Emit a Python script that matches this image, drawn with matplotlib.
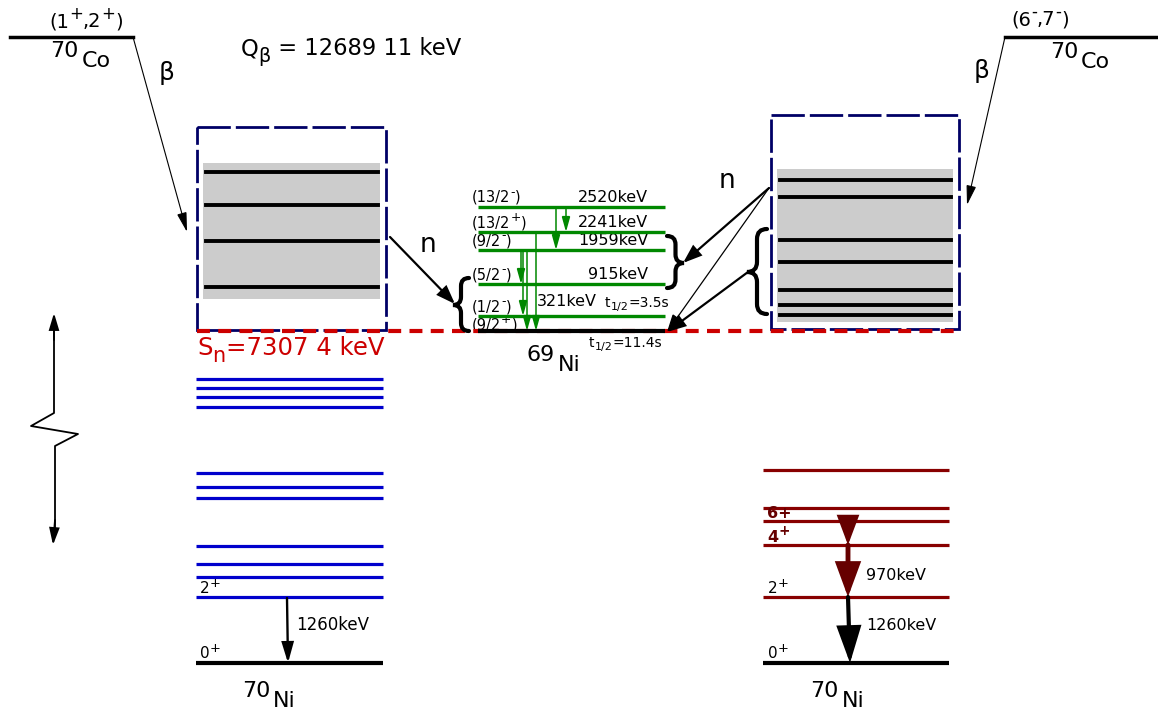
import matplotlib
matplotlib.use("Agg")
import matplotlib.pyplot as plt
from matplotlib.patches import FancyArrowPatch, Rectangle, PathPatch
from matplotlib.path import Path

# ---- data ----
# 69Ni levels (keV), spins (base, parity) and their schematic heights in the drawing
ni69_energy = [2520, 2241, 1959, 915, 321, 0]
ni69_spin = ['13/2', '13/2', '9/2', '5/2', '1/2', '9/2']
ni69_parity = ['-', '+', '-', '-', '-', '+']
ni69_y = [207, 232, 250, 284, 316, 331]
# gamma transitions inside 69Ni (from level index -> to level index, x)
ni69_gammas = [(0, 2, 556), (0, 1, 566), (1, 5, 536), (2, 5, 527), (2, 3, 521), (2, 4, 523)]

# 70Ni bound levels (schematic)
ni70_left_y = [379, 388, 397, 407, 473, 487, 498, 546, 564, 577, 597]
ni70_right_y = [470, 508, 521, 545, 597]
ni70_ground_y = 663

# unbound states in boxes
box_left_y = [172, 205, 241, 287]
box_right_y = [180, 197, 240, 262, 290, 305, 315]

q_beta = '12689 11'
s_n = '7307 4'
e_2plus = 1260
e_4plus = 970
t_half_gs = '11.4s'
t_half_iso = '3.5s'

GREEN = '#008800'
BLUE = '#0000cc'
DRED = '#880000'
ARED = '#660000'
NAVY = '#000066'
RED = '#cc0000'


def arrow(ax, p0, p1, color='black', lw=1.5, hl=10, hw=4, z=5):
    a = FancyArrowPatch(p0, p1, arrowstyle='-|>,head_length=%g,head_width=%g' % (hl, hw),
                        color=color, lw=lw, shrinkA=0, shrinkB=0, mutation_scale=1,
                        joinstyle='miter', zorder=z)
    ax.add_patch(a)


def brace(ax, x_back, x_tip, y_top, y_bot, y_tip, lw=3):
    xm = (x_back + x_tip) / 2.
    r = abs(x_back - x_tip) / 2.
    verts = [(x_back, y_top), (xm, y_top), (xm, y_top + r),
             (xm, y_tip - r),
             (xm, y_tip), (x_tip, y_tip),
             (xm, y_tip), (xm, y_tip + r),
             (xm, y_bot - r),
             (xm, y_bot), (x_back, y_bot)]
    codes = [Path.MOVETO, Path.CURVE3, Path.CURVE3, Path.LINETO, Path.CURVE3, Path.CURVE3,
             Path.CURVE3, Path.CURVE3, Path.LINETO, Path.CURVE3, Path.CURVE3]
    ax.add_patch(PathPatch(Path(verts, codes), fill=False, lw=lw, color='black',
                           capstyle='round', zorder=6))


def rich(ax, x, y, parts, size, ha='left', **kw):
    # parts: (text, rise in em, scale); drawn one after the other
    r = ax.figure.canvas.get_renderer()
    texts = []
    cx = x
    for s, rise, sc in parts:
        t = ax.text(cx, y - rise * size * 100 / 72., s, fontsize=size * sc,
                    ha='left', va='baseline', **kw)
        cx += t.get_window_extent(renderer=r).width
        texts.append(t)
    if ha != 'left':
        shift = (cx - x) * (0.5 if ha == 'center' else 1.0)
        for t in texts:
            px, py = t.get_position()
            t.set_position((px - shift, py))


def sup(s):
    return (s, 0.42, 0.85)


def isotope(ax, x, y, mass, sym, size=16):
    ax.text(x, y, mass, ha='right', va='baseline', fontsize=size)
    ax.text(x + 3, y + 10, sym, ha='left', va='baseline', fontsize=size)


fig = plt.figure(figsize=(11.58, 7.11), dpi=100)
ax = fig.add_axes([0, 0, 1, 1])
ax.set_xlim(0, 1158)
ax.set_ylim(711, 0)
ax.axis('off')

# ---- 70Co parents ----
ax.plot([10, 133], [37, 37], color='black', lw=2.5)
rich(ax, 86, 27, [('(1', 0, 1), sup('+'), (',2', 0, 1), sup('+'), (')', 0, 1)], 14, ha='center')
isotope(ax, 79, 57, '70', 'Co')
ax.text(167, 80, 'β', ha='center', va='baseline', fontsize=18)
arrow(ax, (133, 37), (187, 232), lw=0.8, hl=12, hw=3)

ax.plot([1005, 1158], [37, 37], color='black', lw=2.5)
rich(ax, 1040, 25, [('(6', 0, 1), sup('-'), (',7', 0, 1), sup('-'), (')', 0, 1)], 14, ha='center')
isotope(ax, 1078, 58, '70', 'Co')
ax.text(982, 78, 'β', ha='center', va='baseline', fontsize=18)
arrow(ax, (1005, 37), (967, 205), lw=0.8, hl=12, hw=3)

rich(ax, 241, 55, [('Q', 0, 1), ('β', -0.3, 0.85), (' = %s keV' % q_beta, 0, 1)], 16.3)

# ---- unbound-state boxes ----
for (x0, y0, x1, y1), (gx0, gy0, gx1, gy1), levels in [
        ((197, 127, 386, 330), (203, 163, 380, 299), box_left_y),
        ((771, 115, 959, 329), (777, 169, 953, 322), box_right_y)]:
    ax.add_patch(Rectangle((gx0, gy0), gx1 - gx0, gy1 - gy0, color='#cccccc', lw=0, zorder=1))
    ax.add_patch(Rectangle((x0, y0), x1 - x0, y1 - y0, fill=False, ec=NAVY, lw=2,
                           linestyle=(0, (12, 1.8)), zorder=2))
    for y in levels:
        ax.plot([gx0 + 3, gx1 - 2], [y, y], color='black', lw=2.8, zorder=3)

# neutron separation energy
ax.plot([197, 955], [331, 331], color=RED, lw=3, dashes=(3.1, 2.0), zorder=4)
rich(ax, 197, 355, [('S', 0, 1), ('n', -0.3, 0.85), ('=%s keV' % s_n, 0, 1)], 17.6, color=RED)

# ---- 69Ni ----
for i, y in enumerate(ni69_y):
    col = 'black' if ni69_energy[i] == 0 else GREEN
    ax.plot([478, 665], [y, y], color=col, lw=3 if col == 'black' else 2.4, zorder=5,
            solid_capstyle='butt')
    rich(ax, 472, y - 5 if i < 5 else y - 2,
         [('(' + ni69_spin[i], 0, 1), sup(ni69_parity[i]), (')', 0, 1)], 10.5)
    if ni69_energy[i] > 321:
        ax.text(648, y - 5, '%dkeV' % ni69_energy[i], ha='right', va='baseline', fontsize=11.5)
ax.text(537, 306, '%dkeV' % ni69_energy[4], ha='left', va='baseline', fontsize=11.5)
rich(ax, 605, 307, [('t', 0, 1), ('1/2', -0.25, 0.8), ('=' + t_half_iso, 0, 1)], 10)
rich(ax, 589, 347, [('t', 0, 1), ('1/2', -0.25, 0.8), ('=' + t_half_gs, 0, 1)], 10)
isotope(ax, 555, 361, '69', 'Ni', size=16)
for a, b, x in ni69_gammas:
    arrow(ax, (x, ni69_y[a]), (x, ni69_y[b]), color=GREEN, lw=1.1, hl=9, hw=2.5)

# braces and neutron arrows
brace(ax, 469, 453, 278, 331, 305)
brace(ax, 667, 684, 236, 288, 263)
brace(ax, 767, 747, 229, 314, 272)
ax.text(428, 252, 'n', ha='center', va='baseline', fontsize=19)
ax.text(727, 188, 'n', ha='center', va='baseline', fontsize=19)
arrow(ax, (390, 237), (455, 304), lw=1.6, hl=11, hw=4)
arrow(ax, (769, 188), (683, 263), lw=1.6, hl=11, hw=4)
arrow(ax, (769, 188), (667, 332), lw=0.9, hl=11, hw=3.5)
arrow(ax, (748, 272), (667, 332), lw=1.6, hl=11, hw=4)

# ---- 70Ni, left (low spin) ----
for y in ni70_left_y:
    ax.plot([196, 383], [y, y], color=BLUE, lw=2.3, solid_capstyle='butt')
ax.plot([196, 383], [ni70_ground_y] * 2, color='black', lw=3, solid_capstyle='butt')
rich(ax, 200, 593, [('2', 0, 1), sup('+')], 11)
rich(ax, 200, 658, [('0', 0, 1), sup('+')], 11)
arrow(ax, (287, 598), (288, ni70_ground_y), lw=1.7, hl=12, hw=3.5)
ax.text(296, 630, '%dkeV' % e_2plus, ha='left', va='baseline', fontsize=12)
isotope(ax, 270, 697, '70', 'Ni')

# ---- 70Ni, right (high spin) ----
for y in ni70_right_y:
    ax.plot([763, 949], [y, y], color=DRED, lw=2.3, solid_capstyle='butt')
ax.plot([763, 949], [ni70_ground_y] * 2, color='black', lw=3, solid_capstyle='butt')
ax.text(767, 518, '6+', ha='left', va='baseline', fontsize=11.5, color=ARED, fontweight='bold')
rich(ax, 767, 542, [('4', 0, 1), sup('+')], 11.5, color=ARED, fontweight='bold')
rich(ax, 768, 593, [('2', 0, 1), sup('+')], 11)
rich(ax, 768, 658, [('0', 0, 1), sup('+')], 11)
arrow(ax, (848, 517), (848, 545), color=ARED, lw=3, hl=16, hw=6)
arrow(ax, (848, 545), (848, 597), color=ARED, lw=3.5, hl=19, hw=7)
arrow(ax, (848, 597), (850, ni70_ground_y), color='black', lw=3, hl=21, hw=7)
ax.text(866, 580, '%dkeV' % e_4plus, ha='left', va='baseline', fontsize=11.5)
ax.text(866, 630, '%dkeV' % e_2plus, ha='left', va='baseline', fontsize=11.5)
isotope(ax, 839, 697, '70', 'Ni')

# ---- broken energy axis ----
ax.plot([54, 54, 31, 78, 55, 55], [330, 413, 426, 434, 446, 530], color='black', lw=1.3)
arrow(ax, (54, 340), (54, 313), lw=1.3, hl=10, hw=3)
arrow(ax, (55, 520), (53, 545), lw=1.3, hl=10, hw=3)

fig.savefig('out.png', dpi=100)
